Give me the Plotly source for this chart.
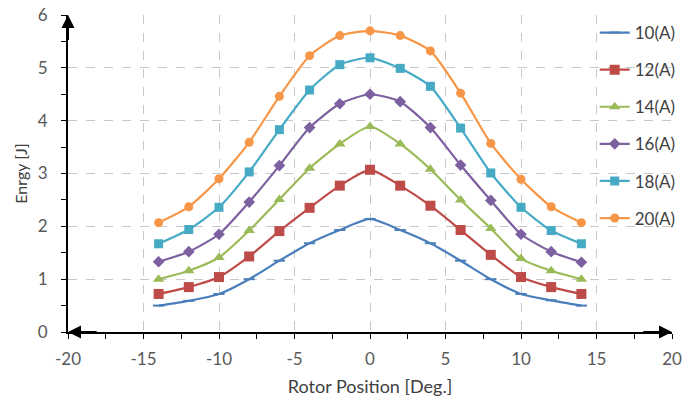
import plotly.graph_objects as go

positions = [-14, -12, -10, -8, -6, -4, -2, 0, 2, 4, 6, 8, 10, 12, 14]
e10 = [0.50, 0.59, 0.72, 1.00, 1.35, 1.68, 1.93, 2.14, 1.93, 1.68, 1.35, 1.00, 0.72, 0.60, 0.50]
e12 = [0.72, 0.85, 1.04, 1.43, 1.91, 2.35, 2.77, 3.07, 2.77, 2.39, 1.93, 1.46, 1.04, 0.85, 0.72]
e14 = [1.00, 1.16, 1.41, 1.92, 2.51, 3.10, 3.56, 3.89, 3.56, 3.08, 2.50, 1.96, 1.39, 1.16, 1.00]
e16 = [1.33, 1.52, 1.85, 2.46, 3.15, 3.87, 4.32, 4.50, 4.36, 3.87, 3.16, 2.49, 1.85, 1.52, 1.32]
e18 = [1.67, 1.94, 2.36, 3.03, 3.83, 4.58, 5.06, 5.19, 4.99, 4.65, 3.86, 3.01, 2.36, 1.92, 1.67]
e20 = [2.07, 2.37, 2.90, 3.59, 4.46, 5.23, 5.61, 5.70, 5.61, 5.32, 4.52, 3.57, 2.89, 2.37, 2.07]

x_ticks = [-20, -15, -10, -5, 0, 5, 10, 15, 20]
x_tick_text = ["-20", "-15", "-10", "-5", "0", "5", "10", "15", "20"]

series = [
    ("10(A)", e10, "#4A7EBB", "line-ew", 8),
    ("12(A)", e12, "#BE4B48", "square", 10),
    ("14(A)", e14, "#9BBB59", "triangle-up", 10),
    ("16(A)", e16, "#7D60A0", "diamond", 9),
    ("18(A)", e18, "#46AAC5", "square", 9),
    ("20(A)", e20, "#F79646", "circle", 9),
]

fig = go.Figure()
for i, (name, vals, color, sym, sz) in enumerate(series):
    fig.add_trace(go.Scatter(
        x=positions, y=vals, name=name, mode="lines+markers",
        legendgroup=str(i),
        line=dict(color=color, width=2.2, shape="spline", smoothing=0.6),
        marker=dict(symbol=sym, size=sz, color=color,
                    line=dict(color=color, width=2 if sym == "line-ew" else 0)),
    ))

font_family = "Lato, 'Open Sans', sans-serif"
grid = dict(showgrid=True, gridcolor="#C8C8C8", griddash="dash", gridwidth=1)

fig.update_layout(
    width=684, height=403,
    margin=dict(l=68, r=12, t=15, b=71, autoexpand=False),
    paper_bgcolor="white", plot_bgcolor="white",
    font=dict(family=font_family, size=17, color="#595959"),
    showlegend=True,
    legend=dict(x=0.872, y=1.0, xanchor="left", yanchor="top",
                bgcolor="rgba(0,0,0,0)", font=dict(size=17, color="#404040"),
                tracegroupgap=12, itemwidth=30),
    xaxis=dict(range=[-20, 20], tickvals=x_ticks, ticktext=x_tick_text, zeroline=False,
               showline=True, linecolor="black", linewidth=2,
               ticks="outside", ticklen=5, tickcolor="black", tickwidth=1,
               ticklabelstandoff=6, automargin=False,
               minor=dict(dtick=2.5, tick0=0, ticks="outside", ticklen=5, tickcolor="black", showgrid=False),
               title=dict(text="Rotor Position [Deg.]", standoff=12, font=dict(size=18, color="#404040")),
               **grid),
    yaxis=dict(range=[0, 6], dtick=1, zeroline=False,
               showline=True, linecolor="black", linewidth=2,
               ticks="outside", ticklen=5, tickcolor="black", tickwidth=1,
               ticklabelstandoff=10, automargin=False,
               minor=dict(dtick=0.5, ticks="outside", ticklen=5, tickcolor="black", showgrid=False),
               title=dict(text="Enrgy [J]", standoff=6, font=dict(size=16, color="#404040")),
               **grid),
)

# axis arrows
fig.add_annotation(x=-20, y=6, ax=-20, ay=5.5, xref="x", yref="y", axref="x", ayref="y",
                   text="", showarrow=True, arrowhead=2, arrowsize=1.3, arrowwidth=2, arrowcolor="black")
fig.add_annotation(x=20, y=0, ax=18, ay=0, xref="x", yref="y", axref="x", ayref="y",
                   text="", showarrow=True, arrowhead=2, arrowsize=1.3, arrowwidth=2, arrowcolor="black")
fig.add_annotation(x=-20, y=0, ax=-18, ay=0, xref="x", yref="y", axref="x", ayref="y",
                   text="", showarrow=True, arrowhead=2, arrowsize=1.3, arrowwidth=2, arrowcolor="black")

fig.write_html("out.html")
